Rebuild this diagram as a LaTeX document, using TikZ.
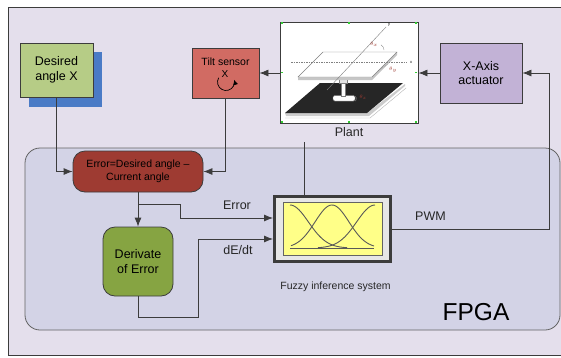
\documentclass[tikz,border=0pt]{standalone}
\usepackage{fontspec}
\setmainfont{Liberation Sans}
\usetikzlibrary{arrows.meta}
\definecolor{pageback}{HTML}{E4DFEC}
\definecolor{fpgaback}{HTML}{D3D3E6}
\definecolor{edge}{HTML}{3C3C3C}
\definecolor{desgreen}{HTML}{B6CC86}
\definecolor{shadowblue}{HTML}{4A7BC6}
\definecolor{tiltred}{HTML}{D16B63}
\definecolor{errred}{HTML}{9E3B32}
\definecolor{dergreen}{HTML}{86A442}
\definecolor{actpurple}{HTML}{C2B2D6}
\definecolor{fuzzyyellow}{HTML}{FFFF88}
\definecolor{fuzzygray}{HTML}{E6E6E6}
\definecolor{handle}{HTML}{33CC33}
\tikzset{
  box/.style={draw=edge, line width=0.8pt, inner sep=0pt, align=center, font=\fontsize{12.5}{14.5}\selectfont},
  roundbox/.style={box, rounded corners=12pt},
  wire/.style={draw=edge, line width=0.8pt},
  arrowwire/.style={wire, -{Latex[length=9pt,width=7pt]}},
  lbl/.style={inner sep=0pt, font=\fontsize{12.5}{14.5}\selectfont, text=black!85},
  tiny/.style={inner sep=0pt, font=\fontsize{4}{4}\selectfont},
}
\begin{document}
\begin{tikzpicture}[x=1pt,y=-1pt]
\useasboundingbox (0,0) rectangle (561,357);
\fill[white] (0,0) rectangle (561,357);
% page frame
\fill[pageback] (8,7) rectangle (561,355);
\draw[edge, line width=0.8pt] (561,7) -- (8,7) -- (8,355) -- (561,355);
% FPGA region
\draw[edge!80, line width=0.8pt, fill=fpgaback, rounded corners=15pt] (25,148) rectangle (560,330);
\node[inner sep=0pt, font=\fontsize{24.5}{26}\selectfont] (fpgalbl) at (476,312) {FPGA};

% desired angle with its shadow
\fill[shadowblue] (29,52) rectangle (102,107);
\node[box, fill=desgreen, minimum width=73pt, minimum height=54pt] (desired) at (56.5,70) {Desired\\angle X};

% tilt sensor
\node[box, fill=tiltred, minimum width=67pt, minimum height=50pt] (tilt) at (225.5,73) {};
\node[inner sep=0pt, font=\fontsize{10.5}{12}\selectfont] (tiltlbl) at (225.5,61.5) {Tilt sensor};
\node[inner sep=0pt, font=\fontsize{10}{12}\selectfont] (tiltx) at (225,74) {X};
\draw[line width=0.7pt, -{Latex[length=5pt,width=5pt]}] (226,82) ++(210:8.5) arc[start angle=210, end angle=-15, radius=8.5];

% plant
\node[draw=edge, line width=0.9pt, fill=white, minimum width=138pt, minimum height=101pt, inner sep=0pt] (plant) at (349,72.5) {};
\node[lbl] (plantlbl) at (349,132) {Plant};
% base plate
\fill[gray!40] (286,116) -- (369,116) -- (405,86) -- (405,84) -- (367,113) -- (285,113) -- cycle;
\draw[gray!60, line width=0.4pt] (285,118) -- (370,118) -- (406,88);
\fill[black!85] (285,113) -- (367,113) -- (403,83) -- (320,83) -- cycle;
% stand
\draw[gray, line width=0.4pt, fill=white, rounded corners=1.5pt] (333,95.5) rectangle (355,101);
\draw[gray, line width=0.4pt, fill=white] (341,80) rectangle (345,96);
\draw[gray, line width=0.4pt, fill=gray!20] (339,77) rectangle (347,83);
% top plate
\fill[gray!45] (298,77) -- (372,77) -- (397,52) -- (397,55) -- (372,80) -- (298,80) -- cycle;
\draw[gray, line width=0.4pt, fill=white] (298,77) -- (372,77) -- (397,52) -- (323,52) -- cycle;
% axes
\draw[gray, line width=0.4pt, dash pattern=on 1.5pt off 1pt] (291,62) -- (407,62);
\node[tiny] (axx) at (411,62) {x};
\draw[gray, line width=0.4pt] (386,27) -- (327,90);
\node[tiny] (axy) at (389,25) {y};
\draw[gray, line width=0.3pt] (384,50) arc[start angle=0, end angle=-60, radius=6];
\node[tiny, text=errred] (thx) at (374,44) {$\theta_x$};
\draw[gray, line width=0.3pt, dash pattern=on 1pt off 0.7pt] (378,71) -- (388,64);
\node[tiny, text=errred] (thy) at (393,70) {$\theta_y$};
\draw[gray, line width=0.3pt] (355,96) arc[start angle=-60, end angle=60, radius=3];
\node[tiny, text=errred] (thz) at (363,97) {$\theta_z$};
% selection handles
\foreach \hx/\hy in {282/23, 349/23, 416/23, 282/72.5, 416/72.5, 282/122, 349/122, 416/122}
  \fill[handle] (\hx-0.8,\hy-0.8) rectangle (\hx+0.8,\hy+0.8);

% x-axis actuator
\node[box, fill=actpurple, minimum width=82pt, minimum height=60pt] (act) at (481,73) {X-Axis\\actuator};

% error computation
\node[roundbox, fill=errred, minimum width=130pt, minimum height=41pt, font=\fontsize{10.5}{13}\selectfont] (err) at (138,171.5) {Error=Desired angle --\\Current angle};

% derivative
\node[roundbox, fill=dergreen, minimum width=70pt, minimum height=69pt] (deriv) at (138,261.5) {Derivate\\of Error};

% fuzzy inference system
\node[draw=edge, line width=3pt, fill=fuzzygray, minimum width=116pt, minimum height=65pt, inner sep=0pt] (fuzzy) at (332.5,229) {};
\node[draw=edge!80, line width=0.8pt, fill=fuzzyyellow, minimum width=99pt, minimum height=53pt, inner sep=0pt] (fuzzin) at (333,229) {};
\begin{scope}[line width=0.9pt, draw=black!65]
  \draw[domain=290:347, samples=40] plot (\x, {248-43*exp(-((\x-290)/26)^2)});
  \draw[domain=291:374, samples=50] plot (\x, {248-43*exp(-((\x-332)/24)^2)});
  \draw[domain=318:375, samples=40] plot (\x, {248-43*exp(-((\x-375)/26)^2)});
  \draw (290,248) -- (374,248);
\end{scope}
\node[inner sep=0pt, font=\fontsize{10.5}{12}\selectfont, text=black!85] (fuzzylbl) at (335.5,287) {Fuzzy inference system};

% connector bends
\coordinate (ebranch) at (138,204);
\coordinate (eb1) at (180,204);
\coordinate (eb2) at (180,218);
\coordinate (db1) at (138,317);
\coordinate (db2) at (198,317);
\coordinate (db3) at (198,239);
\coordinate (pwmturn) at (549,229);
\coordinate (plantfoot) at (304,142);

% connectors
\draw[arrowwire] (desired.south) |- (err.west);
\draw[arrowwire] (tilt.south) |- (err.east);
\draw[arrowwire] (plant.west |- tilt.east) -- (tilt.east);
\draw[arrowwire] (act.west) -- (plant.east |- act.west);
\draw[arrowwire] (fuzzy.east) -- (pwmturn) |- (act.east);
\draw[wire] (plantfoot) -- (plantfoot |- fuzzy.north);
\draw[arrowwire] (err.south) -- (deriv.north);
\draw[arrowwire] (ebranch) -- (eb1) -- (eb2) -- (eb2 -| fuzzy.west);
\draw[arrowwire] (deriv.south) -- (db1) -- (db2) -- (db3) -- (db3 -| fuzzy.west);

% signal labels
\node[lbl] (errlbl) at (237,205) {Error};
\node[lbl] (dedtlbl) at (238,250) {dE/dt};
\node[lbl] (pwmlbl) at (430.5,216) {PWM};
\end{tikzpicture}
\end{document}
